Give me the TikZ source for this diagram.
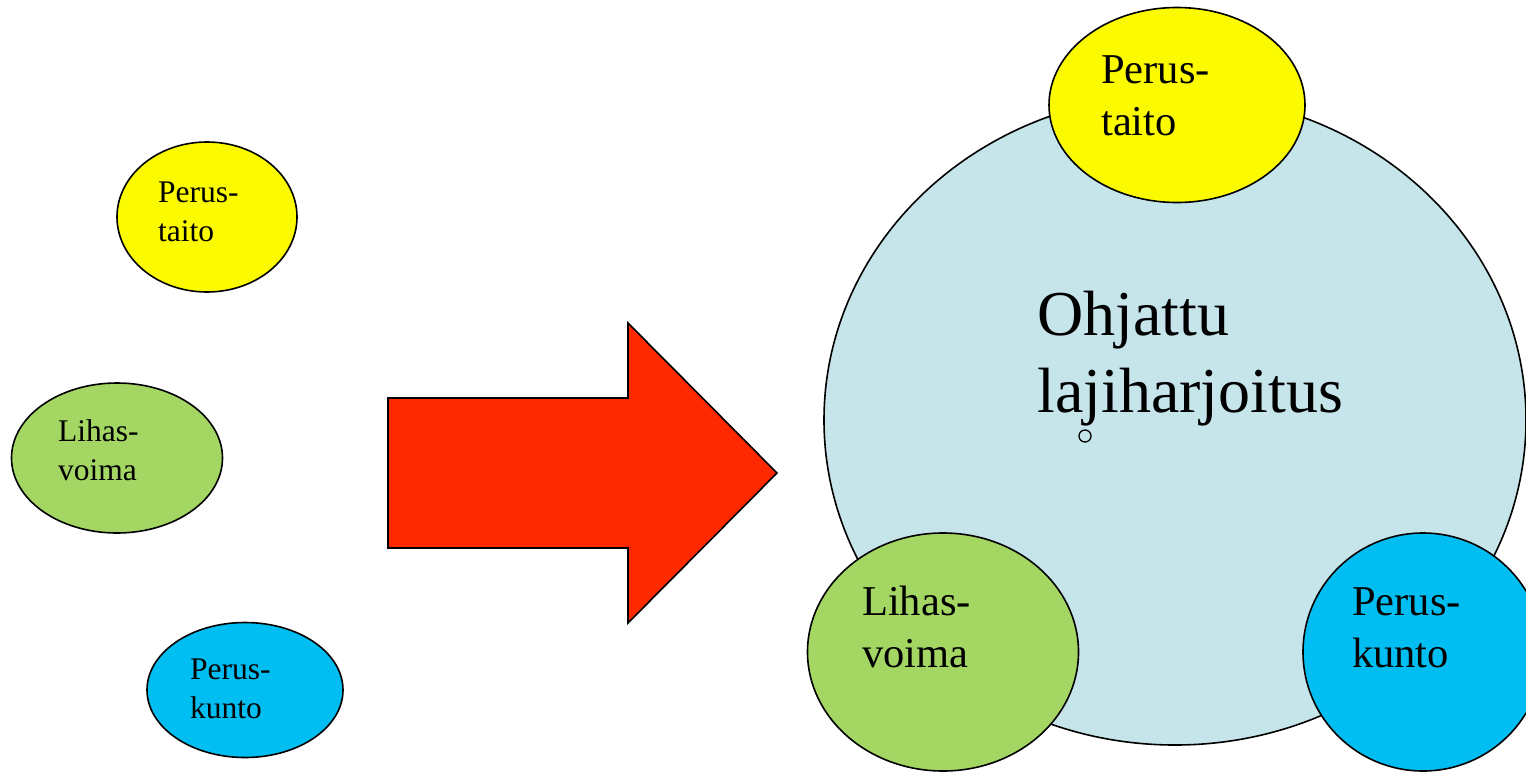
\documentclass[tikz,border=0pt]{standalone}
\usepackage{fontspec}
\setmainfont{Liberation Serif}
\usetikzlibrary{shapes.geometric}
\definecolor{cyel}{RGB}{252,250,0}
\definecolor{cgrn}{RGB}{163,214,99}
\definecolor{cblu}{RGB}{0,190,242}
\definecolor{clbl}{RGB}{198,229,234}
\definecolor{cred}{RGB}{255,41,0}
\begin{document}
\begin{tikzpicture}[x=1pt,y=-1pt,
  blob/.style={ellipse, draw=black, line width=1.6pt, inner sep=0pt, outer sep=0pt},
  smalltxt/.style={anchor=base west, align=left, inner sep=0pt, font=\fontsize{31.5}{38.4}\selectfont},
  bigtxt/.style={anchor=base west, align=left, inner sep=0pt, font=\fontsize{42.5}{51.5}\selectfont},
  hugetxt/.style={anchor=base west, align=left, inner sep=0pt, font=\fontsize{64}{76.5}\selectfont}]
\useasboundingbox (0,0) rectangle (1526,772);
\clip (0,0) rectangle (1526,772);
% left side small ellipses
\node[blob, fill=cyel, minimum width=180pt, minimum height=150pt] (sy) at (207,217) {};
\node[smalltxt] (syt) at (158,241) {Perus-\\taito};
\node[blob, fill=cgrn, minimum width=211pt, minimum height=150pt] (sg) at (117,458) {};
\node[smalltxt] (sgt) at (58,480) {Lihas-\\voima};
\node[blob, fill=cblu, minimum width=196pt, minimum height=135pt] (sb) at (245,690) {};
\node[smalltxt] (sbt) at (190,718) {Perus-\\kunto};
% arrow
\draw[line width=1.6pt, fill=cred] (388,398) -- (628,398) -- (628,323) -- (777,473) -- (628,623) -- (628,548) -- (388,548) -- cycle;
% big circle
\node[blob, fill=clbl, minimum width=702pt, minimum height=650pt] (bc) at (1175,420) {};
\node[hugetxt] (bct) at (1037,412) {Ohjattu\\lajiharjoitus};
\node[circle, draw=black, line width=1.3pt, fill=clbl, minimum size=12pt, inner sep=0pt] (dot) at (1085,436) {};
% big ellipses
\node[blob, fill=cyel, minimum width=256pt, minimum height=195pt] (by) at (1177,105) {};
\node[bigtxt] (byt) at (1101,135) {Perus-\\taito};
\node[blob, fill=cgrn, minimum width=271pt, minimum height=238pt] (bg) at (943,652) {};
\node[bigtxt] (bgt) at (862,667) {Lihas-\\voima};
\node[blob, fill=cblu, minimum width=240pt, minimum height=238pt] (bb) at (1423,652) {};
\node[bigtxt] (bbt) at (1352,667) {Perus-\\kunto};
\end{tikzpicture}
\end{document}
